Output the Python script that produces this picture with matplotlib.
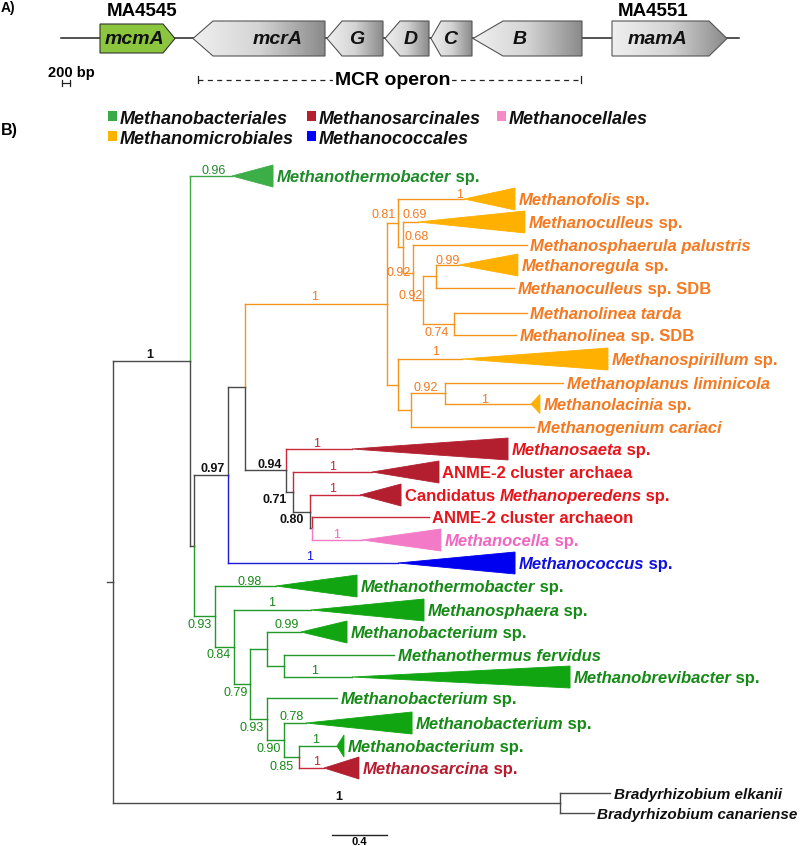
import numpy as np
import matplotlib
matplotlib.use("Agg")
import matplotlib.pyplot as plt
from matplotlib.patches import Polygon, Rectangle
from matplotlib.colors import LinearSegmentedColormap

FONT = 'Liberation Sans'
plt.rcParams['font.family'] = [FONT, 'DejaVu Sans']

# ====================== DATA ======================
# ---- Panel A: gene neighbourhood (bp along the locus) ----
locus_bp = [0, 16950]
gene_names = ['mcmA', 'mcrA', 'G', 'D', 'C', 'B', 'mamA']
gene_start = [975, 3300, 6650, 8100, 9250, 10300, 13775]
gene_end = [2850, 6600, 8050, 9200, 10275, 13025, 16650]
gene_strand = [1, -1, -1, -1, -1, -1, 1]
locus_tags = ['MA4545', 'MA4551']
operon_span = [3425, 13000]
operon_name = 'MCR operon'
scale_bp = 200

# ---- Panel B: tree ----
legend_names = ['Methanobacteriales', 'Methanosarcinales', 'Methanocellales',
                'Methanomicrobiales', 'Methanococcales']

children = {
    'root': ['N1', 'BR'],
    'N1': ['Mthermo1', 'N2'],
    'N2': ['N3', 'G1'],
    'N3': ['N4', 'Mcoccus'],
    'N4': ['O1', 'N5'],
    'O1': ['O2', 'OL'],
    'O2': ['Mfolis', 'Q'],
    'Q': ['Mculleus', 'R'],
    'R': ['Msphaerula', 'S'],
    'S': ['W', 'T'],
    'W': ['Mregula', 'MculleusSDB'],
    'T': ['Mtarda', 'MlineaSDB'],
    'OL': ['Mspirillum', 'OL2'],
    'OL2': ['OL3', 'Mgenium'],
    'OL3': ['Mplanus', 'Mlacinia'],
    'N5': ['Msaeta', 'N6'],
    'N6': ['ANMEa', 'N7'],
    'N7': ['Cand', 'N8'],
    'N8': ['ANMEb', 'Mcella'],
    'G1': ['Mthermo2', 'G2'],
    'G2': ['Msphaera', 'G3'],
    'G3': ['G4', 'G5'],
    'G4': ['Mbact1', 'G6'],
    'G6': ['Mthermus', 'Mbrevi'],
    'G5': ['Mbact2', 'G7'],
    'G7': ['Mbact3', 'G8'],
    'G8': ['Mbact4', 'Msarcina'],
    'BR': ['Belk', 'Bcan'],
}
# node depth (substitutions/site from the root)
node_depth = {
    'root': 0.0, 'N1': 0.560, 'N2': 0.589, 'N3': 0.836, 'N4': 0.960,
    'O1': 1.993, 'O2': 2.073, 'Q': 2.109, 'R': 2.182, 'S': 2.255, 'W': 2.349, 'T': 2.480,
    'OL': 2.073, 'OL2': 2.167, 'OL3': 2.415,
    'N5': 1.258, 'N6': 1.309, 'N7': 1.433, 'N8': 1.447,
    'G1': 0.742, 'G2': 0.880, 'G3': 0.996, 'G4': 1.120, 'G6': 1.244, 'G5': 1.120,
    'G7': 1.244, 'G8': 1.353, 'BR': 3.251,
}
node_group = {n: 'out' for n in node_depth}
for n in ['O1', 'O2', 'Q', 'R', 'S', 'W', 'T', 'OL', 'OL2', 'OL3']:
    node_group[n] = 'micro'
for n in ['G1', 'G2', 'G3', 'G4', 'G5', 'G6', 'G7', 'G8']:
    node_group[n] = 'bact'

leaf_ids = ['Mthermo1', 'Mfolis', 'Mculleus', 'Msphaerula', 'Mregula', 'MculleusSDB',
            'Mtarda', 'MlineaSDB', 'Mspirillum', 'Mplanus', 'Mlacinia', 'Mgenium',
            'Msaeta', 'ANMEa', 'Cand', 'ANMEb', 'Mcella', 'Mcoccus',
            'Mthermo2', 'Msphaera', 'Mbact1', 'Mthermus', 'Mbrevi', 'Mbact2',
            'Mbact3', 'Mbact4', 'Msarcina', 'Belk', 'Bcan']
leaf_labels = ['*Methanothermobacter* sp.', '*Methanofolis* sp.', '*Methanoculleus* sp.',
               '*Methanosphaerula palustris*', '*Methanoregula* sp.', '*Methanoculleus* sp. SDB',
               '*Methanolinea tarda*', '*Methanolinea* sp. SDB', '*Methanospirillum* sp.',
               '*Methanoplanus liminicola*', '*Methanolacinia* sp.', '*Methanogenium cariaci*',
               '*Methanosaeta* sp.', 'ANME-2 cluster archaea', 'Candidatus *Methanoperedens* sp.',
               'ANME-2 cluster archaeon', '*Methanocella* sp.', '*Methanococcus* sp.',
               '*Methanothermobacter* sp.', '*Methanosphaera* sp.', '*Methanobacterium* sp.',
               '*Methanothermus fervidus*', '*Methanobrevibacter* sp.', '*Methanobacterium* sp.',
               '*Methanobacterium* sp.', '*Methanobacterium* sp.', '*Methanosarcina* sp.',
               '*Bradyrhizobium elkanii*', '*Bradyrhizobium canariense*']
# vertical row of each tip in the tree layout (top to bottom)
leaf_row = [176, 199, 222, 245, 265, 288, 313, 335, 359, 383, 404, 427,
            449, 472, 495, 517, 540, 563, 586, 610, 632, 655, 677, 698,
            723, 746, 768, 793, 813]
# depth of the tip (or of the stem end of a collapsed clade)
leaf_tip = [0.865, 2.553, 2.218, 3.011, 2.516, 2.916, 3.011, 2.931, 2.538, 3.273, 3.040, 3.062,
            1.738, 1.884, 1.796, 2.298, 1.811, 2.073, 1.185, 1.440, 1.367, 2.044, 1.738, 1.629,
            1.404, 1.629, 1.535, 3.615, 3.498]
# deepest tip of a collapsed clade (nan = single sequence)
clade_far = [1.164, 2.924, 2.996, np.nan, 2.945, np.nan, np.nan, np.nan, 3.600, np.nan, 3.105, np.nan,
             2.873, 2.371, 2.095, np.nan, 2.385, 2.924, 1.775, 2.262, 1.702, np.nan, 3.324, np.nan,
             2.175, 1.680, 1.789, np.nan, np.nan]
leaf_group = (['bact1'] + ['micro'] * 11 + ['sarc'] * 4 + ['cell', 'cocc'] + ['bact'] * 8
              + ['sarc2', 'out', 'out'])

# posterior support values (text, depth, row, group)
supports = [
    ('1', 0.269, 355, 'out'), ('0.96', 0.735, 171, 'bact1'),
    ('1', 1.469, 297, 'micro'), ('0.81', 1.971, 215, 'micro'), ('0.69', 2.196, 215, 'micro'),
    ('0.68', 2.211, 237, 'micro'), ('0.92', 2.080, 273, 'micro'), ('0.99', 2.436, 261, 'micro'),
    ('0.92', 2.167, 296, 'micro'), ('0.74', 2.356, 333, 'micro'), ('1', 2.524, 195, 'micro'),
    ('1', 2.349, 352, 'micro'), ('0.92', 2.276, 388, 'micro'), ('1', 2.705, 400, 'micro'),
    ('1', 1.484, 444, 'sarc'), ('0.94', 1.142, 465, 'out'), ('1', 1.600, 467, 'sarc'),
    ('0.71', 1.178, 500, 'out'), ('1', 1.600, 489, 'sarc'), ('0.80', 1.302, 520, 'out'),
    ('1', 1.629, 535, 'cell'), ('0.97', 0.727, 469, 'out'), ('1', 1.433, 557, 'cocc'),
    ('0.98', 0.996, 582, 'bact'), ('0.93', 0.633, 625, 'bact'), ('1', 1.156, 603, 'bact'),
    ('0.84', 0.771, 655, 'bact'), ('0.99', 1.265, 625, 'bact'), ('0.79', 0.895, 693, 'bact'),
    ('1', 1.469, 671, 'bact'), ('0.93', 1.011, 728, 'bact'), ('0.78', 1.302, 717, 'bact'),
    ('0.90', 1.135, 749, 'bact'), ('1', 1.476, 740, 'bact'), ('0.85', 1.229, 767, 'bact'),
    ('1', 1.484, 762, 'sarc'), ('1', 1.644, 797, 'out'),
]
scale_len = 0.4

# ====================== STYLE ======================
line_col = {'bact1': '#3aa845', 'bact': '#23992a', 'micro': '#f7941d', 'sarc': '#c8283c',
            'sarc2': '#c8283c', 'cell': '#f27ac6', 'cocc': '#1a1ad8', 'out': '#4a4a4a'}
tri_col = {'bact1': '#3cae48', 'bact': '#11a611', 'micro': '#ffb000', 'sarc': '#b41f30',
           'sarc2': '#b41f30', 'cell': '#f27ac6', 'cocc': '#0000f0', 'out': '#4a4a4a'}
text_col = {'bact1': '#1e8a2a', 'bact': '#168a16', 'micro': '#f47920', 'sarc': '#e8141c',
            'sarc2': '#b81a2e', 'cell': '#f066c0', 'cocc': '#1010e0', 'out': '#111111'}
supp_col = {'bact1': '#1e8a2a', 'bact': '#168a16', 'micro': '#f47920', 'sarc': '#c0283c',
            'cell': '#f066c0', 'cocc': '#1010e0', 'out': '#111111'}
label_size = {'out': 11}
legend_col = ['#3aaa48', '#b5202e', '#f58ac8', '#ffb300', '#0000ff']
tri_half = {n: 11.0 for n in leaf_ids}
tri_half['Mlacinia'] = 9.5

PXW, PXH = 800, 846
TREE_X0 = 113.0          # px of the root
PX_PER_UNIT = 55 / 0.4   # scale bar
LOCUS_X0 = 61.0
PX_PER_BP = 1 / 25.0

fig = plt.figure(figsize=(8.0, 8.46), dpi=100)
fig.patch.set_facecolor('white')

ax_px = fig.add_axes([0, 0, 1, 1])
ax_px.set_xlim(0, PXW); ax_px.set_ylim(PXH, 0); ax_px.axis('off')

ax_a = fig.add_axes([0, 0, 1, 1])
ax_a.patch.set_alpha(0)
ax_t = fig.add_axes([0, 0, 1, 1])
ax_t.patch.set_alpha(0)


def rich(ax, x, y, text, color, size, dx=0.0, dy=0.0):
    """Bold text with *italic* segments, left aligned at baseline."""
    parts = []
    segs = text.split('*')
    for i, s in enumerate(segs):
        if s:
            parts.append((s, i % 2 == 1))
    prev = None
    for s, it in parts:
        kw = dict(color=color, fontsize=size, fontweight='bold',
                  fontstyle='italic' if it else 'normal', family=[FONT, 'DejaVu Sans'])
        if prev is None:
            prev = ax.annotate(s, xy=(x, y), xycoords='data', xytext=(dx, dy),
                               textcoords='offset points', ha='left', va='baseline', **kw)
        else:
            prev = ax.annotate(s, xy=(1, 0), xycoords=prev, ha='left', va='bottom', **kw)
    return prev


# ====================== PANEL A ======================
ax_px.text(1, 12, 'A)', fontsize=10, fontweight='bold', ha='left', va='baseline')
ax_a.plot(locus_bp, [38.5, 38.5], color='#222222', lw=1.1, zorder=1)
head_bp = [300, 500, 375, 375, 250, 750, 450]
label_bp = [1850, 5425, 7400, 8750, 9725, 11475, 14925]
gray_cmap = LinearSegmentedColormap.from_list('gg', ['#f0f0f0', '#d4d4d4', '#8a8a8a'])
grad = np.linspace(0, 1, 256).reshape(1, -1)
for name, s, e, strand, hd, lx in zip(gene_names, gene_start, gene_end, gene_strand, head_bp, label_bp):
    if name == 'mcmA':
        top, bot = 24, 53
    else:
        top, bot = 21, 56
    mid = (top + bot) / 2
    if strand > 0:
        pts = [(s, top), (e - hd, top), (e, mid), (e - hd, bot), (s, bot)]
    else:
        pts = [(s, mid), (s + hd, top), (e, top), (e, bot), (s + hd, bot)]
    if name == 'mcmA':
        poly = Polygon(pts, closed=True, fc='#8cc63f', ec='#333333', lw=0.8, zorder=3)
        ax_a.add_patch(poly)
    else:
        poly = Polygon(pts, closed=True, fc='none', ec='#555555', lw=0.8, zorder=3)
        ax_a.add_patch(poly)
        im = ax_a.imshow(grad, extent=(s, e, bot, top), aspect='auto', cmap=gray_cmap, zorder=2,
                         interpolation='bilinear')
        im.set_clip_path(poly)
    ax_a.text(lx, 44, name, fontsize=14, fontweight='bold', fontstyle='italic',
              ha='center', va='baseline', color='#111111', zorder=4)
tag_bp = [2025, 14800]
for tag, tx in zip(locus_tags, tag_bp):
    ax_a.text(tx, 15.5, tag, fontsize=13.5, fontweight='bold', ha='center', va='baseline')

# operon dashed line
ax_a.plot(operon_span, [80, 80], color='#222222', lw=0.9, ls=(0, (4, 3.5)), zorder=1)
for xb in operon_span:
    ax_a.plot([xb, xb], [76.5, 83.5], color='#222222', lw=0.9)
ax_a.text(sum(operon_span) / 2 + 75, 85, operon_name, fontsize=14, fontweight='bold',
          ha='center', va='baseline', zorder=3,
          bbox=dict(fc='white', ec='none', pad=1.5))
# 200 bp scale
sb0 = 25
ax_a.plot([sb0, sb0 + scale_bp], [83, 83], color='#222222', lw=0.9)
for xb in [sb0, sb0 + scale_bp]:
    ax_a.plot([xb, xb], [80, 86], color='#222222', lw=0.9)
ax_a.text(sb0 + scale_bp / 2 + 125, 76.5, '200 bp', fontsize=10.5, fontweight='bold',
          ha='center', va='baseline')

ax_a.set_xlim(-LOCUS_X0 / PX_PER_BP, (PXW - LOCUS_X0) / PX_PER_BP)
ax_a.set_ylim(PXH, 0)
ax_a.axis('off')

# ====================== LEGEND ======================
ax_px.text(1, 135, 'B)', fontsize=11.5, fontweight='bold', ha='left', va='baseline')
leg_pos = [(108, 111), (307, 111), (497, 111), (108, 131), (307, 131)]
for (lx, ly), nm, c in zip(leg_pos, legend_names, legend_col):
    ax_px.add_patch(Rectangle((lx, ly), 9, 10, fc=c, ec='none'))
    ax_px.text(lx + 12, ly + 13.5, nm, fontsize=13, fontweight='bold', fontstyle='italic',
               ha='left', va='baseline', color='#111111')

# ====================== TREE ======================
leaf_info = {lid: i for i, lid in enumerate(leaf_ids)}
ypos = {}


def get_y(n):
    if n in ypos:
        return ypos[n]
    if n in leaf_info:
        y = leaf_row[leaf_info[n]]
    else:
        ch = children[n]
        y = (get_y(ch[0]) + get_y(ch[-1])) / 2.0
    ypos[n] = y
    return y


get_y('root')
LW = 1.0


def group_of(n):
    return leaf_group[leaf_info[n]] if n in leaf_info else node_group[n]


def start_x(n):
    return leaf_tip[leaf_info[n]] if n in leaf_info else node_depth[n]


for n, ch in children.items():
    x = node_depth[n]
    y = ypos[n]
    for c in ch:
        col = line_col[group_of(c)]
        yc = ypos[c]
        ax_t.plot([x, x], [y, yc], color=col, lw=LW, solid_capstyle='projecting', zorder=2)
        ax_t.plot([x, start_x(c)], [yc, yc], color=col, lw=LW, solid_capstyle='projecting', zorder=2)

# root stem
ax_t.plot([-6 / PX_PER_UNIT, 0], [ypos['root'], ypos['root']], color=line_col['out'], lw=LW)

# collapsed clades and labels
for i, lid in enumerate(leaf_ids):
    g = leaf_group[i]
    y = leaf_row[i]
    x_end = leaf_tip[i]
    if not np.isnan(clade_far[i]):
        h = tri_half[lid]
        tri = Polygon([(leaf_tip[i], y), (clade_far[i], y - h), (clade_far[i], y + h)],
                      closed=True, fc=tri_col[g], ec=tri_col[g], lw=0.6, zorder=3)
        ax_t.add_patch(tri)
        x_end = clade_far[i]
    fs = label_size.get(g, 12)
    rich(ax_t, x_end, y, leaf_labels[i], text_col[g], fs, dx=2.5, dy=-0.36 * fs)

for txt, sx, sy, g in supports:
    bold = g == 'out'
    ax_t.text(sx, sy, txt, fontsize=9, fontweight='bold' if bold else 'normal',
              color=supp_col[g], ha='center', va='center', zorder=4)

# scale bar
sbx = (332 - TREE_X0) / PX_PER_UNIT
ax_t.plot([sbx, sbx + scale_len], [835, 835], color='#222222', lw=1.0)
ax_t.text(sbx + scale_len / 2, 842, '%.1f' % scale_len, fontsize=8, fontweight='bold',
          ha='center', va='center')

ax_t.set_xlim(-TREE_X0 / PX_PER_UNIT, (PXW - TREE_X0) / PX_PER_UNIT)
ax_t.set_ylim(PXH, 0)
ax_t.axis('off')

fig.savefig('out.png', dpi=100, facecolor='white')
